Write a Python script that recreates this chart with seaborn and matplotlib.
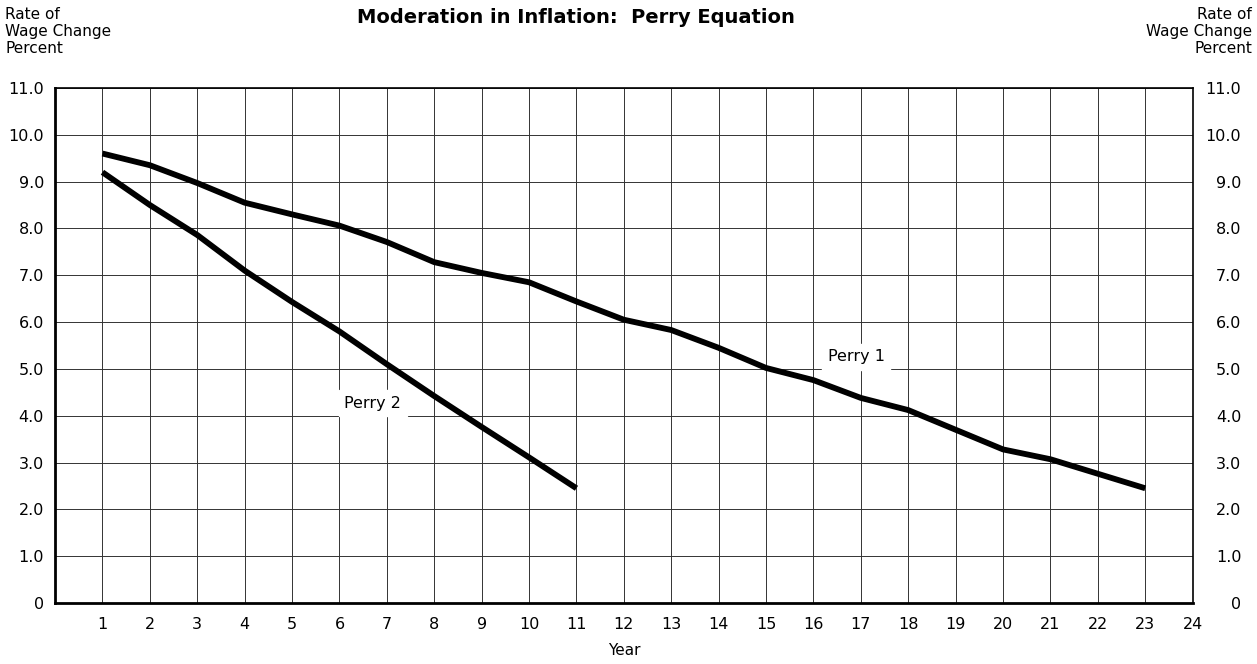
import matplotlib
matplotlib.use("Agg")
import matplotlib.pyplot as plt
import seaborn as sns
import pandas as pd
import numpy as np

years_p1 = list(range(1, 24))
perry1 = [9.6, 9.35, 8.97, 8.55, 8.3, 8.06, 7.71, 7.28, 7.05, 6.85, 6.44, 6.05,
          5.83, 5.45, 5.02, 4.76, 4.38, 4.12, 3.7, 3.28, 3.07, 2.76, 2.45]
years_p2 = list(range(1, 12))
perry2 = [9.2, 8.5, 7.86, 7.1, 6.43, 5.8, 5.1, 4.42, 3.76, 3.11, 2.45]

x_ticks = list(range(1, 25))
y_ticks = list(range(0, 12))
y_tick_labels = ["0"] + [f"{v}.0" for v in range(1, 12)]

title = "Moderation in Inflation:  Perry Equation"
y_label = "Rate of\nWage Change\nPercent"
x_label = "Year"

df = pd.concat([
    pd.DataFrame({"Year": years_p1, "Rate": perry1, "Series": "Perry 1"}),
    pd.DataFrame({"Year": years_p2, "Rate": perry2, "Series": "Perry 2"}),
])

sns.set_style("white")
plt.rcParams["font.family"] = ["DejaVu Sans"]
plt.rcParams["text.color"] = "black"
plt.rcParams["axes.labelcolor"] = "black"
plt.rcParams["xtick.color"] = "black"
plt.rcParams["ytick.color"] = "black"

fig = plt.figure(figsize=(12.57, 6.64), dpi=100)
ax = fig.add_axes([0.0438, 0.0919, 0.905, 0.7756])

sns.lineplot(data=df, x="Year", y="Rate", units="Series", estimator=None,
             color="black", linewidth=4.2, ax=ax, legend=False,
             solid_capstyle="butt")

ax.set_xlim(0, 24)
ax.set_ylim(0, 11)
ax.set_xticks(x_ticks)
ax.set_xticklabels([str(v) for v in x_ticks], fontsize=11.5)
ax.set_yticks(y_ticks)
ax.set_yticklabels(y_tick_labels, fontsize=11.5)
ax.tick_params(axis="y", length=0, pad=8)
ax.tick_params(axis="x", length=0, pad=10)
ax.grid(True, color="#333333", linewidth=0.7)
ax.set_axisbelow(True)
for s in ax.spines.values():
    s.set_color("black")
    s.set_linewidth(1.2)
ax.spines["left"].set_linewidth(2)
ax.spines["bottom"].set_linewidth(2)
ax.set_xlabel(x_label, fontsize=11, labelpad=8)
ax.set_ylabel("")

ax2 = ax.twinx()
ax2.set_ylim(0, 11)
ax2.set_yticks(y_ticks)
ax2.set_yticklabels(y_tick_labels, fontsize=11.5, ha="right")
ax2.tick_params(axis="y", length=0, pad=35)
for s in ax2.spines.values():
    s.set_visible(False)

ax.text(6.7, 4.27, "Perry 2", fontsize=11.5, ha="center", va="center",
        backgroundcolor="white")
ax.text(16.9, 5.26, "Perry 1", fontsize=11.5, ha="center", va="center",
        backgroundcolor="white")

fig.text(0.458, 0.988, title, fontsize=14, fontweight="bold", ha="center", va="top")
fig.text(0.004, 0.99, y_label, fontsize=11, ha="left", va="top", linespacing=1.2)
fig.text(0.996, 0.99, y_label, fontsize=11, ha="right", va="top", linespacing=1.2,
         multialignment="right")

fig.savefig("out.png", dpi=100)
